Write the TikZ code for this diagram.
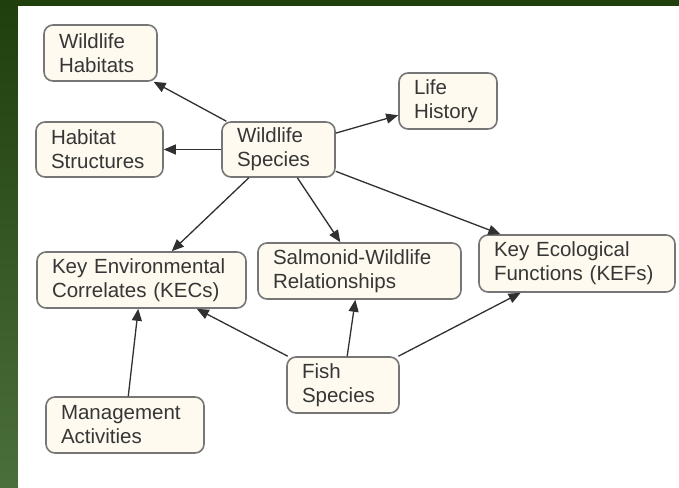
\documentclass[tikz,border=0pt]{standalone}
\usepackage{fontspec}
\setmainfont{Liberation Sans}
\usetikzlibrary{arrows.meta}
\definecolor{gtop}{HTML}{1F3F0D}
\definecolor{gbot}{HTML}{4B6F3A}
\definecolor{boxfill}{HTML}{FEFAEF}
\definecolor{boxline}{HTML}{767676}
\definecolor{txt}{HTML}{363636}
\definecolor{conn}{HTML}{303030}
\tikzset{
  box/.style={draw=boxline, line width=1.6pt, fill=boxfill, rounded corners=9pt,
    align=left, inner xsep=15pt, inner ysep=0pt, text=txt,
    font=\fontsize{20.5}{24}\selectfont},
  link/.style={draw=conn, line width=1.3pt, -{Triangle[length=12pt,width=10pt]}}
}
\begin{document}
\begin{tikzpicture}[x=1pt,y=-1pt]
\useasboundingbox (0,0) rectangle (679,487);
\fill[gtop] (0,0) rectangle (679,6);
\shade[top color=gtop, bottom color=gbot] (0,0) rectangle (18,487);
\fill[white] (18,6) rectangle (679,487);

\node[box, text width=83pt, minimum height=56pt] (wh) at (100.5,53) {Wildlife\\Habitats};
\node[box, text width=97pt, minimum height=55pt] (hs) at (99.5,149.5) {Habitat\\Structures};
\node[box, text width=83pt, minimum height=55pt] (ws) at (278.5,149.5) {Wildlife\\Species};
\node[box, text width=68pt, minimum height=56pt] (lh) at (448,101) {Life\\History};
\node[box, text width=166pt, minimum height=57pt] (kef) at (577,263.5) {Key Ecological\\Functions (KEFs)};
\node[box, text width=179pt, minimum height=56pt] (kec) at (141.5,280) {Key Environmental\\Correlates (KECs)};
\node[box, text width=173pt, minimum height=56pt] (swr) at (359.5,271) {Salmonid-Wildlife\\Relationships};
\node[box, text width=82pt, minimum height=56pt] (fs) at (343,385) {Fish\\Species};
\node[box, text width=128pt, minimum height=56pt] (ma) at (125,425) {Management\\Activities};

\draw[link] (ws) -- (wh);
\draw[link] (ws) -- (hs);
\draw[link] (ws) -- (lh);
\draw[link] (ws) -- (kef);
\draw[link] (ws) -- (kec);
\draw[link] (ws) -- (swr);
\draw[link] (fs) -- (kec);
\draw[link] (fs) -- (swr);
\draw[link] (fs) -- (kef);
\draw[link] (ma) -- (kec);
\end{tikzpicture}
\end{document}
